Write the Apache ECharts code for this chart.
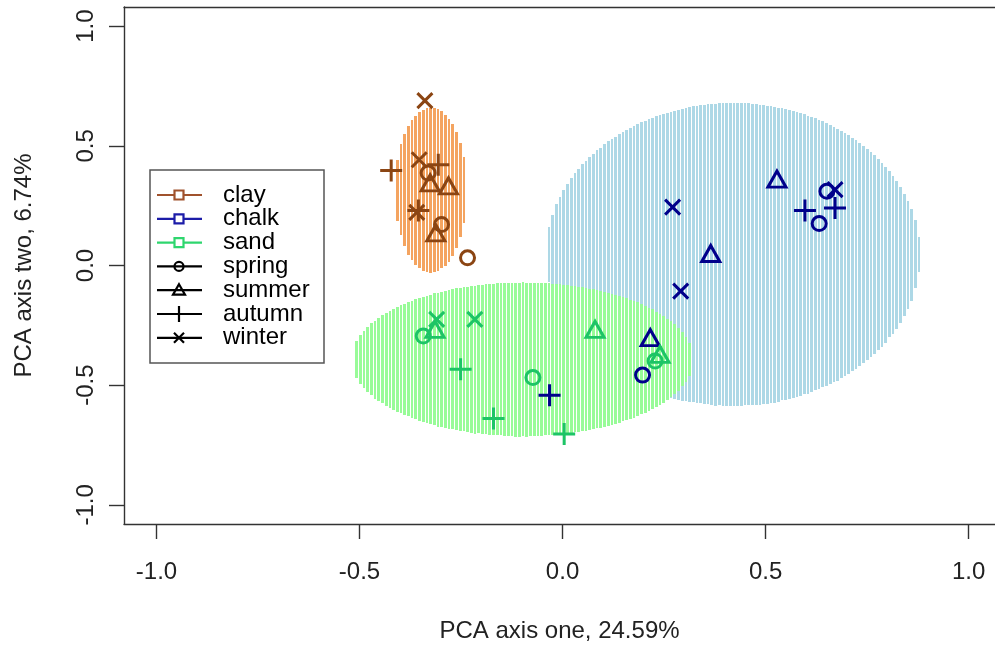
<!DOCTYPE html>
<html>
<head>
<meta charset="utf-8">
<script src="https://cdn.jsdelivr.net/npm/echarts@6/dist/echarts.min.js"></script>
<style>
  html, body { margin: 0; padding: 0; background: #fff; }
  #chart { width: 995px; height: 648px; }
</style>
</head>
<body>
<div id="chart"></div>
<script>
// PCA scores
const claySpring = [[-0.331, 0.386], [-0.298, 0.171], [-0.234, 0.032]];
const claySummer = [[-0.326, 0.345], [-0.281, 0.333], [-0.312, 0.136]];
const clayAutumn = [[-0.422, 0.397], [-0.306, 0.421], [-0.355, 0.230]];
const clayWinter = [[-0.339, 0.689], [-0.353, 0.442], [-0.359, 0.222]];

const chalkSpring = [[0.651, 0.310], [0.632, 0.175], [0.197, -0.458]];
const chalkSummer = [[0.528, 0.361], [0.365, 0.050], [0.216, -0.301]];
const chalkAutumn = [[0.597, 0.230], [0.671, 0.240], [-0.032, -0.542]];
const chalkWinter = [[0.671, 0.317], [0.271, 0.244], [0.291, -0.107]];

const sandSpring = [[-0.343, -0.295], [-0.073, -0.468], [0.228, -0.399]];
const sandSummer = [[-0.314, -0.267], [0.080, -0.267], [0.240, -0.371]];
const sandAutumn = [[-0.251, -0.433], [-0.170, -0.639], [0.004, -0.704]];
const sandWinter = [[-0.310, -0.225], [-0.216, -0.225]];

// ellipses per soil: centre and half axes (chalk, sand, clay)
const ellipseSoil = ['chalk', 'sand', 'clay'];
const ellipseX = [0.420, -0.0985, -0.324];
const ellipseY = [0.046, -0.392, 0.315];
const ellipseRx = [0.461, 0.421, 0.0887];
const ellipseRy = [0.633, 0.321, 0.344];

const tickValues = [-1, -0.5, 0, 0.5, 1];
const soils = ['clay', 'chalk', 'sand'];
const seasons = ['spring', 'summer', 'autumn', 'winter'];

const soilColor = { clay: '#8B4513', chalk: '#00008B', sand: '#1DC466' };
const legendLineColor = { clay: '#A0522D', chalk: '#1C1CA8', sand: '#2ED66E' };
const fillColor = { clay: '#F4A460', chalk: '#ADD8E6', sand: '#98FB98' };

const seasonSymbol = {
  spring: { symbol: 'circle', size: 14 },
  summer: { symbol: 'triangle', size: [18, 16] },
  autumn: { symbol: 'path://M0,-1L0,1M-1,0L1,0', size: 22 },
  winter: { symbol: 'path://M-1,-1L1,1M-1,1L1,-1', size: 15 }
};

const points = {
  clay: [claySpring, claySummer, clayAutumn, clayWinter],
  chalk: [chalkSpring, chalkSummer, chalkAutumn, chalkWinter],
  sand: [sandSpring, sandSummer, sandAutumn, sandWinter]
};

var chart = echarts.init(document.getElementById('chart'));

// vertical hatching inside each ellipse, 1px white gaps on whole pixels
const STEP = 3.7;
function renderEllipse(params, api) {
  var c = api.coord([api.value(0), api.value(1)]);
  var s = api.size([api.value(2), api.value(3)]);
  var rx = s[0], ry = s[1];
  var color = api.visual('color');
  var children = [];
  var k0 = Math.ceil((c[0] - rx) / STEP);
  var k1 = Math.floor((c[0] + rx) / STEP);
  for (var k = k0; k <= k1; k++) {
    var x = Math.round(k * STEP);
    var w = Math.round((k + 1) * STEP) - x - 1;
    var t = (x + w / 2 - c[0]) / rx;
    if (Math.abs(t) >= 1) continue;
    var h = ry * Math.sqrt(1 - t * t);
    children.push({
      type: 'rect',
      shape: { x: x, y: Math.round(c[1] - h), width: w, height: Math.round(2 * h) },
      style: { fill: color }
    });
  }
  return { type: 'group', children: children };
}

var series = [];
ellipseSoil.forEach(function (soil, i) {
  series.push({
    type: 'custom',
    name: soil + ' ellipse',
    silent: true,
    z: 1,
    itemStyle: { color: fillColor[soil] },
    renderItem: renderEllipse,
    data: [[ellipseX[i], ellipseY[i], ellipseRx[i], ellipseRy[i]]]
  });
});

soils.forEach(function (soil) {
  seasons.forEach(function (season, j) {
    series.push({
      type: 'scatter',
      name: soil + ' ' + season,
      z: 3,
      symbol: seasonSymbol[season].symbol,
      symbolSize: seasonSymbol[season].size,
      itemStyle: {
        color: 'rgba(0,0,0,0)',
        borderColor: soilColor[soil],
        borderWidth: 3,
        opacity: 1
      },
      data: points[soil][j]
    });
  });
});

// legend drawn like the R one
var legendItems = [];
var lx = 150, ly = 170, rowY0 = 195, rowGap = 23.8;
legendItems.push({
  type: 'rect',
  shape: { x: lx, y: ly, width: 174, height: 193 },
  style: { fill: '#fff', stroke: '#555', lineWidth: 1.5 },
  z: 10
});
var legendLabels = soils.concat(seasons);
legendLabels.forEach(function (label, i) {
  var y = rowY0 + i * rowGap;
  var col = i < 3 ? legendLineColor[label] : '#000';
  legendItems.push({
    type: 'line', z: 11,
    shape: { x1: 157, y1: y, x2: 202, y2: y },
    style: { stroke: col, lineWidth: 2.2 }
  });
  var sym;
  if (i < 3) {
    sym = { type: 'rect', shape: { x: 174.5, y: y - 4.5, width: 9, height: 9 } };
  } else if (label === 'spring') {
    sym = { type: 'circle', shape: { cx: 179, cy: y, r: 4.5 } };
  } else if (label === 'summer') {
    sym = { type: 'polygon', shape: { points: [[179, y - 6], [185, y + 4.5], [173, y + 4.5]] } };
  } else if (label === 'autumn') {
    sym = { type: 'line', shape: { x1: 179, y1: y - 8, x2: 179, y2: y + 8 } };
  } else {
    sym = { type: 'polyline', shape: { points: [[174, y - 5], [184, y + 5], [179, y], [174, y + 5], [184, y - 5]] } };
  }
  sym.z = 12;
  sym.style = { fill: i < 3 ? '#fff' : 'none', stroke: col, lineWidth: 2.2 };
  if (label === 'spring' || label === 'summer') sym.style.fill = 'none';
  legendItems.push(sym);
  legendItems.push({
    type: 'text', z: 12,
    style: {
      x: 223, y: y, text: label, fill: '#000',
      font: '24px "Liberation Sans", Arial, sans-serif',
      verticalAlign: 'middle'
    }
  });
});

// the plot box runs past the right edge of the picture
var X_MIN = -1.08, X_MAX = 1.065;

var option = {
  animation: false,
  backgroundColor: '#fff',
  textStyle: { fontFamily: '"Liberation Sans", Arial, sans-serif' },
  grid: {
    left: 124,
    top: 7,
    right: 0,
    height: 518,
    show: false
  },
  xAxis: [{
    type: 'value',
    min: X_MIN,
    max: X_MAX,
    name: 'PCA axis one, 24.59%',
    nameLocation: 'middle',
    nameGap: 95,
    nameTextStyle: { fontSize: 24, color: '#222' },
    axisLine: { show: true, onZero: false, lineStyle: { color: '#333', width: 1.4 } },
    axisTick: { show: true, customValues: tickValues, length: 15, lineStyle: { color: '#333', width: 1.4 } },
    axisLabel: {
      customValues: tickValues, margin: 36, fontSize: 24, color: '#222',
      formatter: function (v) { return v.toFixed(1); }
    },
    splitLine: { show: false }
  }, {
    type: 'value',
    position: 'top',
    min: X_MIN,
    max: X_MAX,
    axisLine: { show: true, onZero: false, lineStyle: { color: '#333', width: 1.4 } },
    axisTick: { show: false },
    axisLabel: { show: false },
    splitLine: { show: false }
  }],
  yAxis: {
    type: 'value',
    min: -1.08,
    max: 1.08,
    name: 'PCA axis two, 6.74%',
    nameLocation: 'middle',
    nameGap: 88,
    nameRotate: 90,
    nameTextStyle: { fontSize: 24, color: '#222' },
    axisLine: { show: true, onZero: false, lineStyle: { color: '#333', width: 1.4 } },
    axisTick: { show: true, customValues: tickValues, length: 15, lineStyle: { color: '#333', width: 1.4 } },
    axisLabel: {
      customValues: tickValues, margin: 26, fontSize: 24, color: '#222', rotate: 90,
      formatter: function (v) { return v.toFixed(1); }
    },
    splitLine: { show: false }
  },
  graphic: legendItems,
  series: series
};

chart.setOption(option);
</script>
</body>
</html>
